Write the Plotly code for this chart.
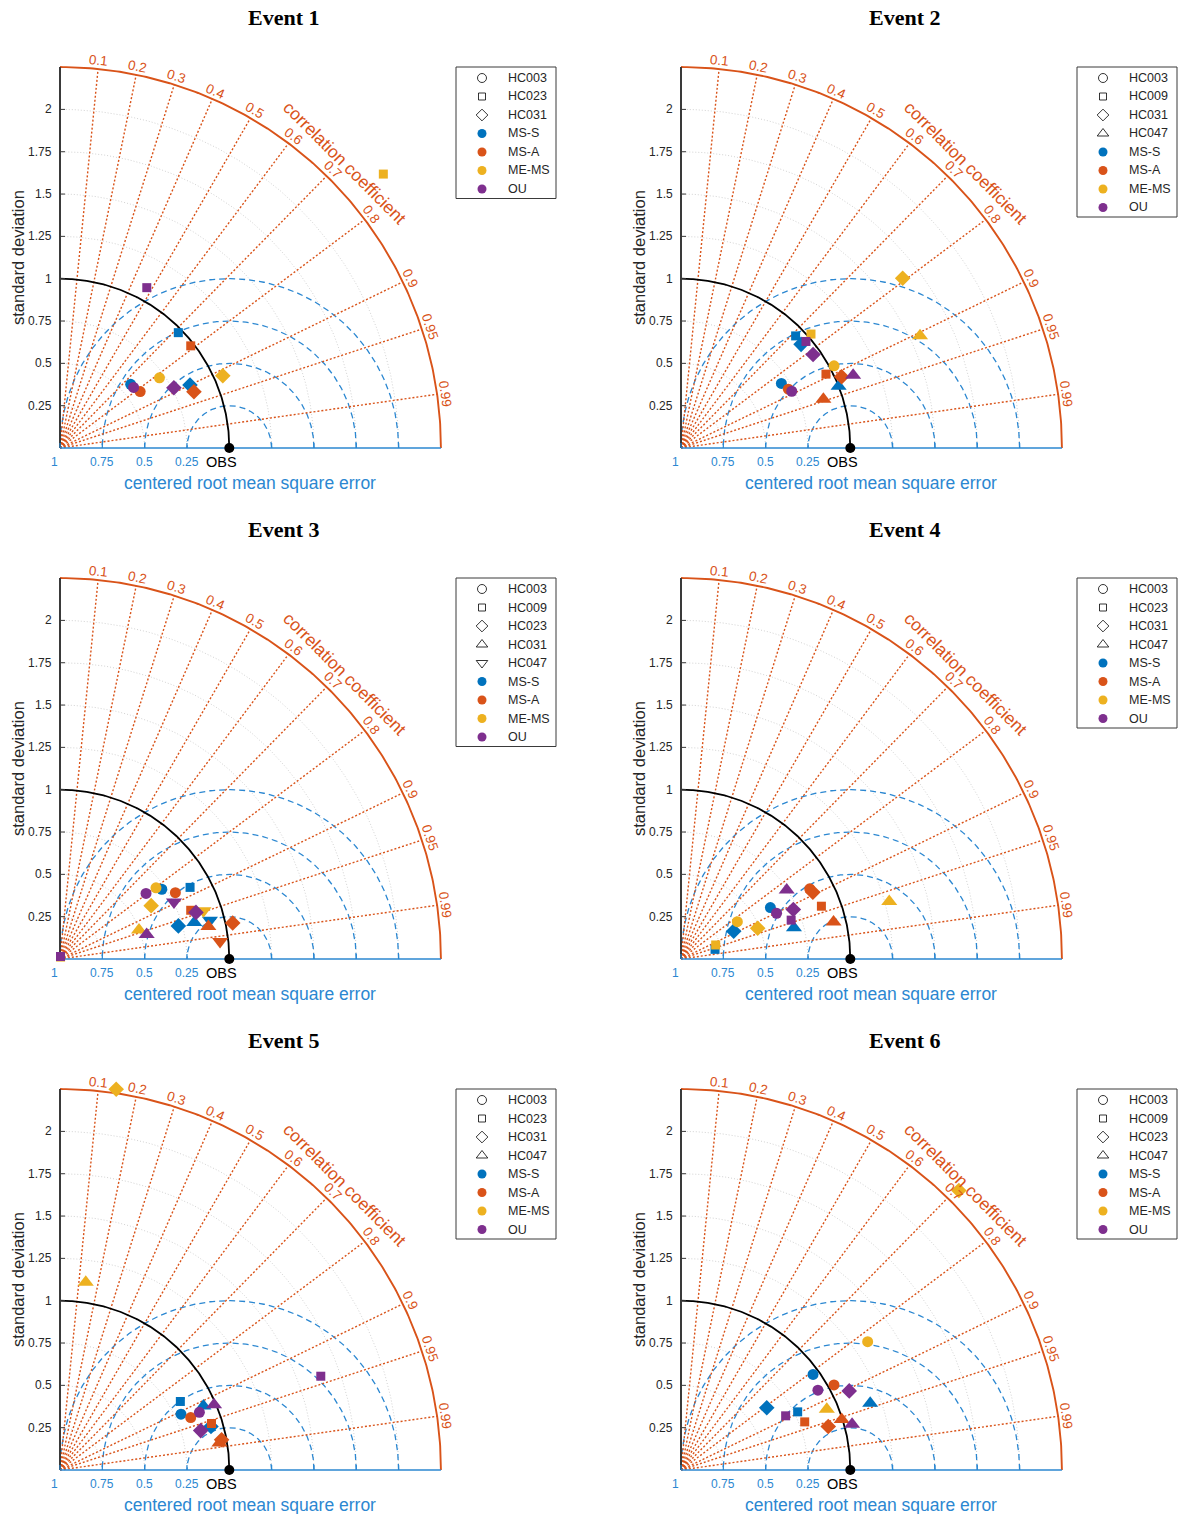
import numpy as np
import plotly.graph_objects as go

# ---------------- data ----------------
MODELS = ["MS-S", "MS-A", "ME-MS", "OU"]
MODEL_COLORS = ["#0072BD", "#D95319", "#EDB120", "#7E2F8E"]
STATION_SYMBOLS = ["circle", "square", "diamond", "triangle-up", "triangle-down"]
STATION_SIZES = [11, 9, 12, 14, 14]
LEGEND_SIZES = [9, 7, 9, 10, 10]

STD_TICKS = [0.25, 0.5, 0.75, 1.0, 1.25, 1.5, 1.75, 2.0]
STD_TICK_LABELS = ["0.25", "0.5", "0.75", "1", "1.25", "1.5", "1.75", "2"]
STD_MAX = 2.25
CORR_TICKS = [0.1, 0.2, 0.3, 0.4, 0.5, 0.6, 0.7, 0.8, 0.9, 0.95, 0.99]
CORR_TICK_LABELS = ["0.1", "0.2", "0.3", "0.4", "0.5", "0.6", "0.7", "0.8", "0.9", "0.95", "0.99"]
CRMSE_TICKS = [0.25, 0.5, 0.75, 1.0]
CRMSE_TICK_LABELS = ["0.25", "0.5", "0.75", "1"]
OBS_STD = 1.0

# Event 1
E1_STATIONS = ["HC003", "HC023", "HC031"]
E1_STD = {"MS-S": [0.562, 0.976, 0.853], "MS-A": [0.579, 0.980, 0.858],
          "ME-MS": [0.719, 2.503, 1.052], "OU": [0.563, 1.077, 0.761]}
E1_COR = {"MS-S": [0.743, 0.716, 0.900], "MS-A": [0.818, 0.788, 0.922],
          "ME-MS": [0.817, 0.763, 0.914], "OU": [0.772, 0.476, 0.884]}
# Event 2
E2_STATIONS = ["HC003", "HC009", "HC031", "HC047"]
E2_STD = {"MS-S": [0.705, 0.947, 0.937, 1.000], "MS-A": [0.723, 0.961, 1.038, 0.889],
          "ME-MS": [1.026, 1.021, 1.649, 1.560], "OU": [0.735, 0.970, 0.956, 1.104]}
E2_COR = {"MS-S": [0.841, 0.715, 0.757, 0.931], "MS-A": [0.877, 0.891, 0.914, 0.946],
          "ME-MS": [0.881, 0.752, 0.794, 0.905], "OU": [0.890, 0.761, 0.816, 0.921]}
# Event 3
E3_STATIONS = ["HC003", "HC009", "HC023", "HC031", "HC047"]
E3_STD = {"MS-S": [0.729, 0.877, 0.726, 0.822, 0.915], "MS-A": [0.786, 0.824, 1.042, 0.897, 0.951],
          "ME-MS": [0.706, 0.012, 0.624, 0.497, 0.894], "OU": [0.639, 0.015, 0.849, 0.532, 0.753]}
E3_COR = {"MS-S": [0.825, 0.876, 0.963, 0.965, 0.968], "MS-A": [0.867, 0.937, 0.979, 0.977, 0.994],
          "ME-MS": [0.803, 0.300, 0.863, 0.939, 0.948], "OU": [0.795, 0.200, 0.946, 0.962, 0.894]}
# Event 4
E4_STATIONS = ["HC003", "HC023", "HC031", "HC047"]
E4_STD = {"MS-S": [0.609, 0.209, 0.352, 0.692], "MS-A": [0.866, 0.886, 0.873, 0.927],
          "ME-MS": [0.399, 0.221, 0.488, 1.276], "OU": [0.626, 0.690, 0.725, 0.746]}
E4_COR = {"MS-S": [0.867, 0.962, 0.884, 0.964], "MS-A": [0.878, 0.936, 0.892, 0.972],
          "ME-MS": [0.834, 0.927, 0.928, 0.964], "OU": [0.902, 0.943, 0.915, 0.837]}
# Event 5
E5_STATIONS = ["HC003", "HC023", "HC031", "HC047"]
E5_STD = {"MS-S": [0.787, 0.818, 0.928, 0.928], "MS-A": [0.832, 0.936, 0.971, 0.955],
          "ME-MS": [None, None, 2.273, 1.119], "OU": [0.891, 1.637, 0.863, 0.988]}
E5_COR = {"MS-S": [0.908, 0.869, 0.961, 0.913], "MS-A": [0.928, 0.956, 0.983, 0.986],
          "ME-MS": [None, None, 0.146, 0.136], "OU": [0.924, 0.941, 0.963, 0.921]}
# Event 6
E6_STATIONS = ["HC003", "HC009", "HC023", "HC047"]
E6_STD = {"MS-S": [0.963, 0.770, 0.626, 1.185], "MS-A": [1.034, 0.784, 0.907, 0.995],
          "ME-MS": [1.338, None, 2.328, 0.933], "OU": [0.936, 0.696, 1.098, 1.046]}
E6_COR = {"MS-S": [0.810, 0.895, 0.809, 0.943], "MS-A": [0.874, 0.932, 0.959, 0.954],
          "ME-MS": [0.824, None, 0.705, 0.923], "OU": [0.864, 0.888, 0.905, 0.966]}

EVENT_TITLES = ["Event 1", "Event 2", "Event 3", "Event 4", "Event 5", "Event 6"]
EVENTS = [(E1_STATIONS, E1_STD, E1_COR), (E2_STATIONS, E2_STD, E2_COR),
          (E3_STATIONS, E3_STD, E3_COR), (E4_STATIONS, E4_STD, E4_COR),
          (E5_STATIONS, E5_STD, E5_COR), (E6_STATIONS, E6_STD, E6_COR)]

# ---------------- layout / style ----------------
W, H = 1182, 1514
S = 169.3                       # pixels per unit of standard deviation
ORIGINS = [(60, 448), (681, 448), (60, 959), (681, 959), (60, 1470), (681, 1470)]
ORANGE = "#D95319"
BLUE = "#2B87D1"
DARK = "#262626"
SANS = "Liberation Sans, Arial, sans-serif"
SERIF = "Liberation Serif, Times New Roman, serif"

fig = go.Figure()
layout = dict(width=W, height=H, autosize=False, margin=dict(l=0, r=0, t=0, b=0),
              paper_bgcolor="white", plot_bgcolor="white", showlegend=False)
annotations = []
shapes = []


def line_trace(xs, ys, xa, ya, color, width, dash="solid"):
    return go.Scatter(x=xs, y=ys, xaxis=xa, yaxis=ya, mode="lines",
                      line=dict(color=color, width=width, dash=dash),
                      hoverinfo="skip", showlegend=False, cliponaxis=False)


def px(v):
    return v / S


for k, (title, (stations, std, cor)) in enumerate(zip(EVENT_TITLES, EVENTS)):
    ox, oy = ORIGINS[k]
    sfx = "" if k == 0 else str(k + 1)
    xa, ya = "x" + sfx, "y" + sfx
    layout["xaxis" + sfx] = dict(domain=[(ox - 55) / W, (ox + 500) / W], range=[px(-55), px(500)],
                                 visible=False, fixedrange=True, anchor=ya)
    layout["yaxis" + sfx] = dict(domain=[1 - (oy + 40) / H, 1 - (oy - 430) / H], range=[px(-40), px(430)],
                                 visible=False, fixedrange=True, anchor=xa)

    th = np.linspace(0, np.pi / 2, 200)
    # grey std arcs
    gx, gy = [], []
    for r in STD_TICKS:
        gx += list(r * np.cos(th)) + [None]
        gy += list(r * np.sin(th)) + [None]
    fig.add_trace(line_trace(gx, gy, xa, ya, "#cdcdcd", 0.9, "1px,2px"))

    # CRMSE dashed circles around OBS
    ph = np.linspace(0, np.pi, 300)
    bx, by = [], []
    for r in CRMSE_TICKS:
        cx = OBS_STD + r * np.cos(ph)
        cy = r * np.sin(ph)
        m = cx >= 0
        bx += list(cx[m]) + [None]
        by += list(cy[m]) + [None]
    fig.add_trace(line_trace(bx, by, xa, ya, BLUE, 1.3, "6px,4px"))

    # correlation rays
    cx, cy = [], []
    for c in CORR_TICKS:
        cx += [0, STD_MAX * c, None]
        cy += [0, STD_MAX * np.sqrt(1 - c * c), None]
    fig.add_trace(line_trace(cx, cy, xa, ya, ORANGE, 1.4, "2px,2px"))

    # std = OBS arc
    fig.add_trace(line_trace(OBS_STD * np.cos(th), OBS_STD * np.sin(th), xa, ya, "black", 1.8))
    # outer arc
    fig.add_trace(line_trace(STD_MAX * np.cos(th), STD_MAX * np.sin(th), xa, ya, ORANGE, 1.9))

    # left axis + ticks
    fig.add_trace(line_trace([0, 0], [0, STD_MAX], xa, ya, "#3a3a3a", 2))
    tx, ty = [], []
    for t in STD_TICKS:
        tx += [0, px(5), None]
        ty += [t, t, None]
    fig.add_trace(line_trace(tx, ty, xa, ya, "#3a3a3a", 1))
    # bottom axis + ticks
    fig.add_trace(line_trace([0, STD_MAX], [0, 0], xa, ya, BLUE, 1.6))
    bt = sorted(set([OBS_STD - r for r in CRMSE_TICKS] + [OBS_STD + r for r in CRMSE_TICKS]))
    bx2, by2 = [], []
    for t in bt:
        bx2 += [t, t, None]
        by2 += [0, px(5), None]
    fig.add_trace(line_trace(bx2, by2, xa, ya, BLUE, 1.2))

    # data markers
    for mi, model in enumerate(MODELS):
        for si, st in enumerate(stations):
            s = std[model][si]
            c = cor[model][si]
            if s is None:
                continue
            fig.add_trace(go.Scatter(
                x=[s * c], y=[s * np.sqrt(1 - c * c)], xaxis=xa, yaxis=ya, mode="markers",
                marker=dict(symbol=STATION_SYMBOLS[si], size=STATION_SIZES[si],
                            color=MODEL_COLORS[mi], line=dict(width=0)),
                hoverinfo="skip", showlegend=False, cliponaxis=False))

    # OBS point
    fig.add_trace(go.Scatter(x=[OBS_STD], y=[0], xaxis=xa, yaxis=ya, mode="markers",
                             marker=dict(symbol="circle", size=10, color="black"),
                             hoverinfo="skip", showlegend=False, cliponaxis=False))

    # ---- text ----
    for t, lab in zip(STD_TICKS, STD_TICK_LABELS):
        annotations.append(dict(x=px(-6), y=t, xref=xa, yref=ya, text=lab, showarrow=False,
                                xanchor="right", yanchor="middle", font=dict(family=SANS, size=12, color=DARK)))
    for r, lab in zip(CRMSE_TICKS, CRMSE_TICK_LABELS):
        xx = OBS_STD - r
        if r == 1.0:
            xx -= px(6)
        annotations.append(dict(x=xx, y=px(-14), xref=xa, yref=ya, text=lab, showarrow=False,
                                xanchor="center", yanchor="middle", font=dict(family=SANS, size=12, color=BLUE)))
    annotations.append(dict(x=OBS_STD - px(8), y=px(-14), xref=xa, yref=ya, text="OBS", showarrow=False,
                            xanchor="center", yanchor="middle", font=dict(family=SANS, size=14.5, color="black")))
    annotations.append(dict(x=px(190), y=px(-35), xref=xa, yref=ya, text="centered root mean square error",
                            showarrow=False, xanchor="center", yanchor="middle",
                            font=dict(family=SANS, size=17.5, color=BLUE)))
    annotations.append(dict(x=px(-42), y=px(190), xref=xa, yref=ya, text="standard deviation",
                            showarrow=False, xanchor="center", yanchor="middle", textangle=-90,
                            font=dict(family=SANS, size=16.5, color=DARK)))
    for c, lab in zip(CORR_TICKS, CORR_TICK_LABELS):
        ang = np.degrees(np.arccos(c))
        rr = 2.30
        annotations.append(dict(x=rr * c, y=rr * np.sqrt(1 - c * c), xref=xa, yref=ya, text=lab,
                                showarrow=False, xanchor="center", yanchor="middle", textangle=90 - ang,
                                font=dict(family=SANS, size=13.5, color=ORANGE)))
    rc = 2.38
    annotations.append(dict(x=rc * np.cos(np.pi / 4), y=rc * np.sin(np.pi / 4), xref=xa, yref=ya,
                            text="correlation coefficient", showarrow=False, xanchor="center",
                            yanchor="middle", textangle=45, font=dict(family=SANS, size=17.5, color=ORANGE)))
    annotations.append(dict(x=px(224), y=px(430), xref=xa, yref=ya, text="<b>" + title + "</b>",
                            showarrow=False, xanchor="center", yanchor="middle",
                            font=dict(family=SERIF, size=22, color="black")))

    # ---- legend box ----
    names = list(stations) + MODELS
    n = len(names)
    shapes.append(dict(type="rect", xref=xa, yref=ya, x0=px(396), x1=px(496),
                       y0=px(371 - 18.5 * (n - 1) - 10.5), y1=px(381),
                       line=dict(color="#3a3a3a", width=1), fillcolor="white", layer="below"))
    for j, nm in enumerate(names):
        yy = px(370 - 18.5 * j)
        if j < len(stations):
            sym = STATION_SYMBOLS[j] + "-open"
            mk = dict(symbol=sym, size=LEGEND_SIZES[j], color="black", line=dict(width=0.8, color="black"))
        else:
            mk = dict(symbol="circle", size=9, color=MODEL_COLORS[j - len(stations)])
        fig.add_trace(go.Scatter(x=[px(422)], y=[yy], xaxis=xa, yaxis=ya, mode="markers", marker=mk,
                                 hoverinfo="skip", showlegend=False, cliponaxis=False))
        annotations.append(dict(x=px(446), y=yy, xref=xa, yref=ya, text=nm, showarrow=False,
                                xanchor="left", yanchor="middle", font=dict(family=SANS, size=12.5, color=DARK)))

layout["annotations"] = annotations
layout["shapes"] = shapes
fig.update_layout(**layout)
fig.write_html("out.html", config={"displayModeBar": False},
               post_script="document.body.style.margin='0';")
